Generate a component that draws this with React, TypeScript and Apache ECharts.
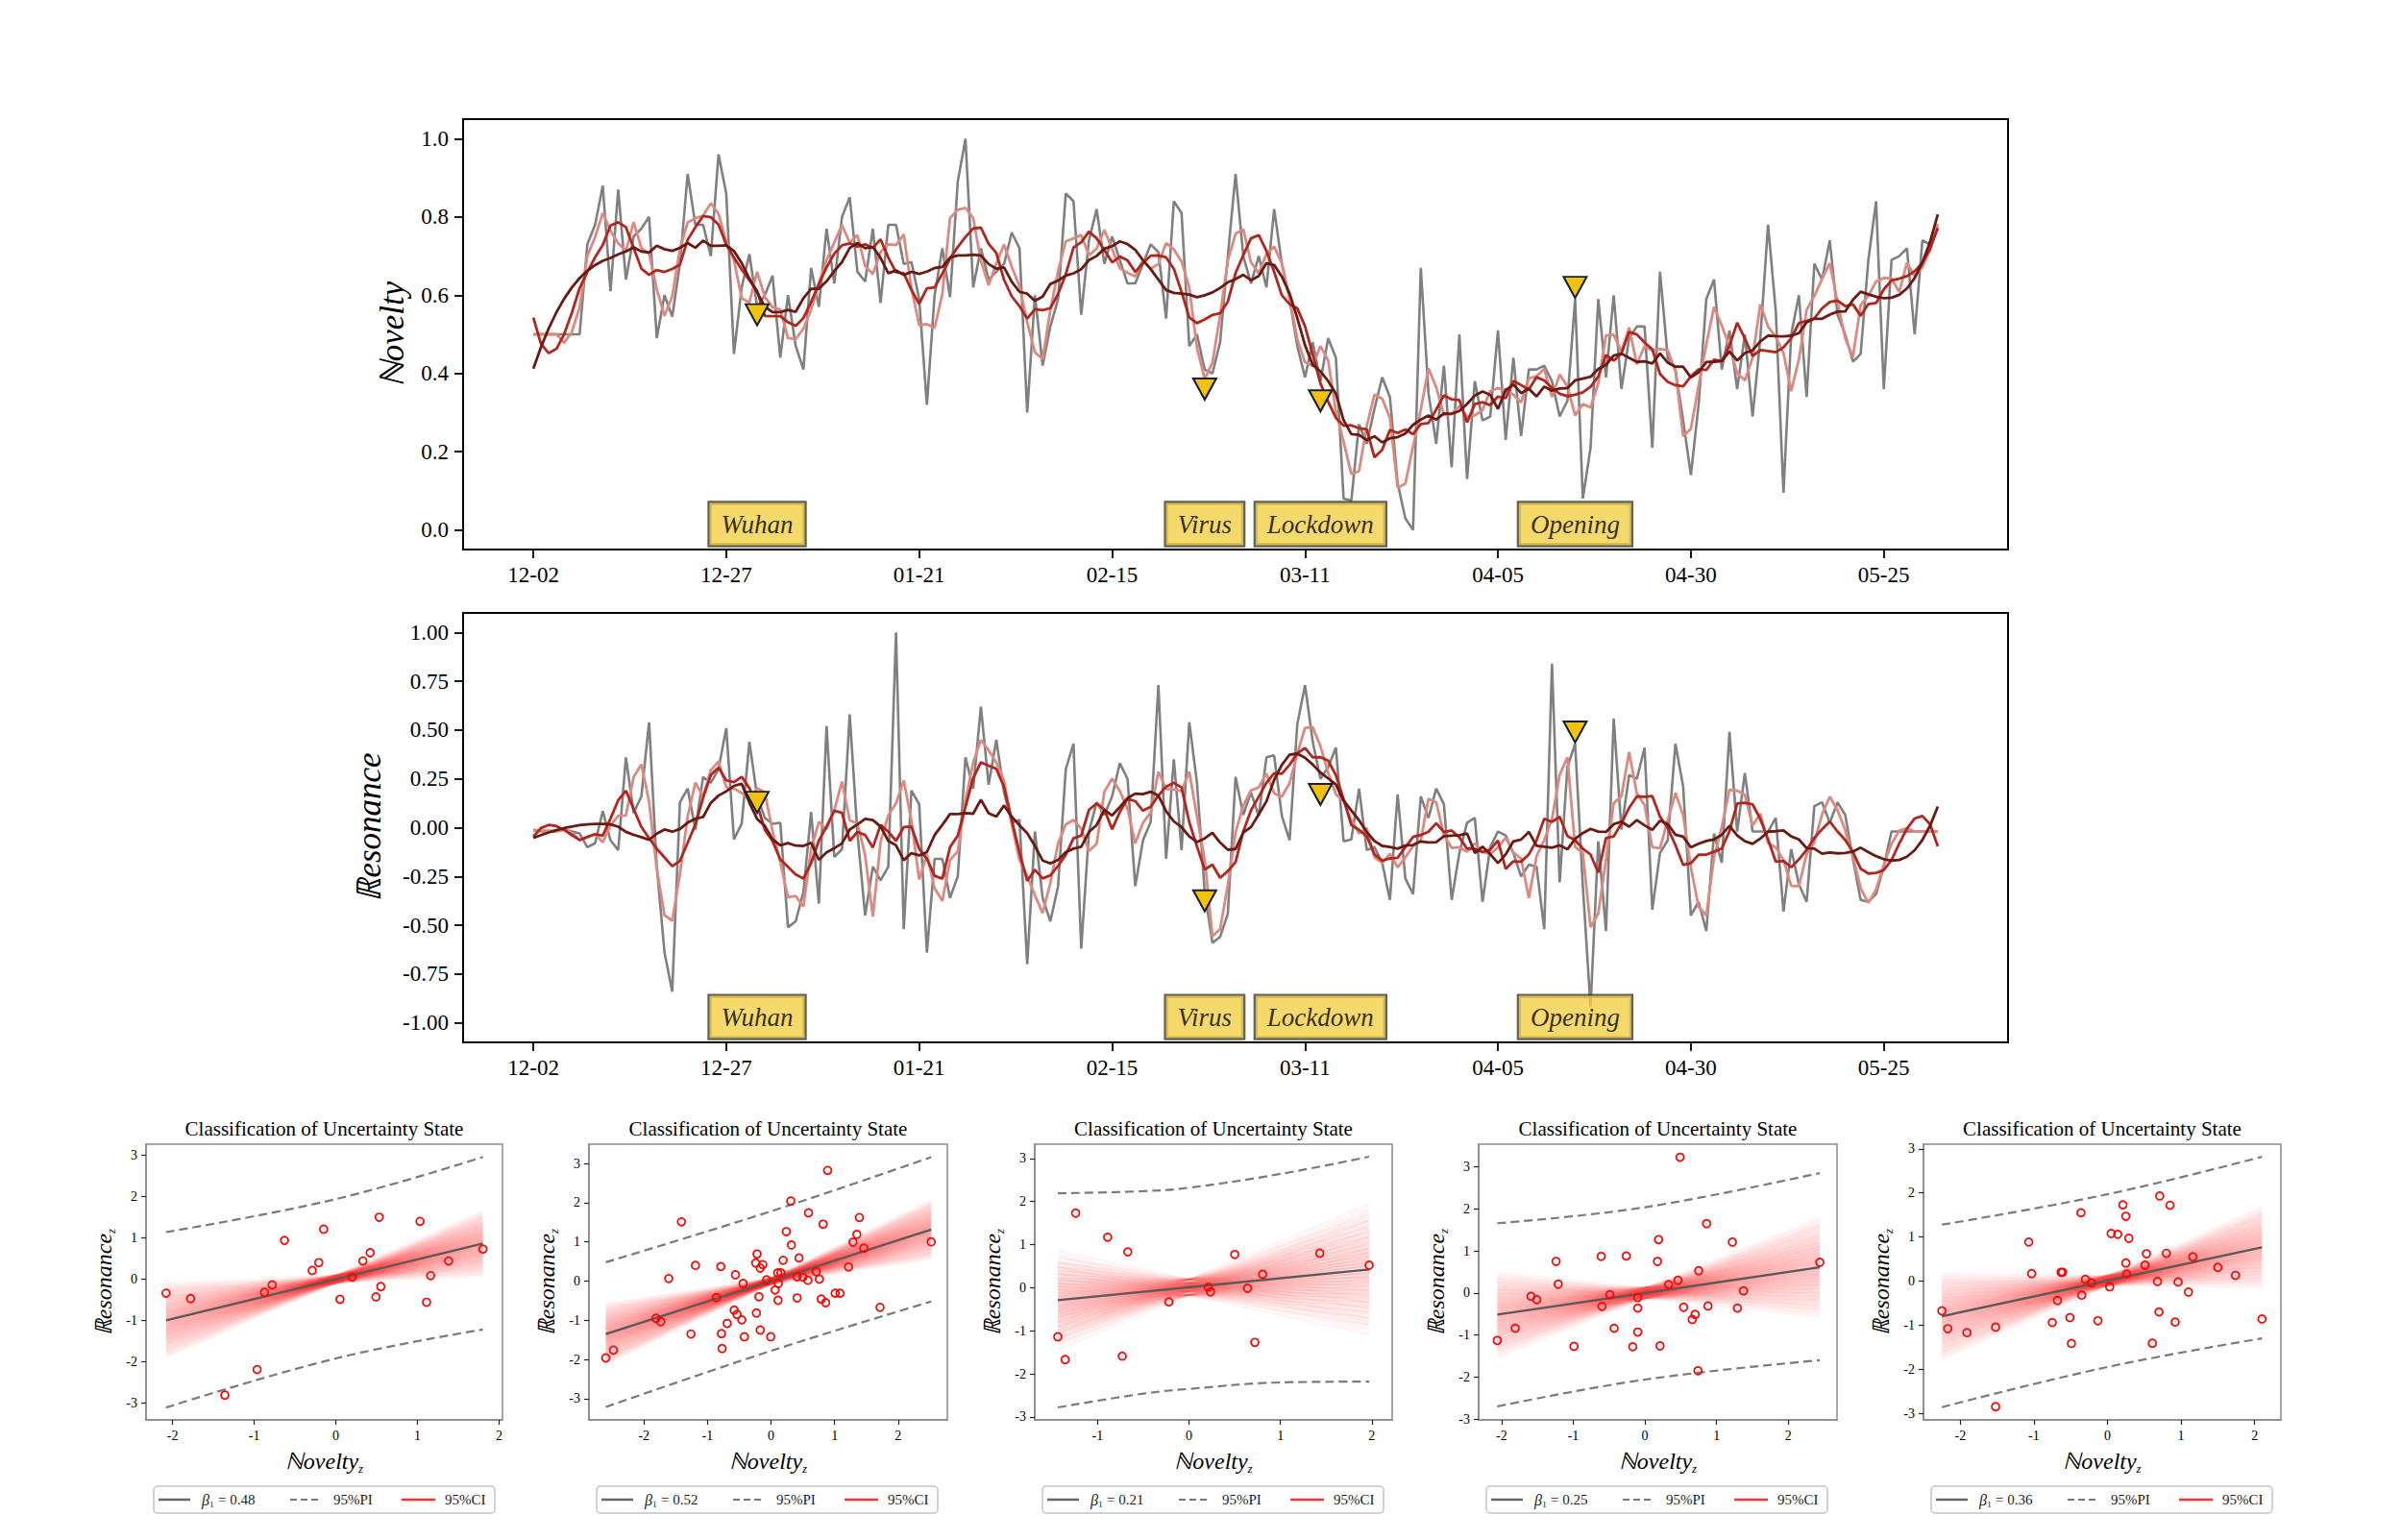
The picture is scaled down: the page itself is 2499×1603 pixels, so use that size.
import React, { useEffect, useRef } from "react";
import * as echarts from "echarts";

// ---------- time-series data (day index 0 = 2019-12-02) ----------
const xTickDays = [0, 25, 50, 75, 100, 125, 150, 175];
const xTickLabels = ["12-02", "12-27", "01-21", "02-15", "03-11", "04-05", "04-30", "05-25"];
const noveltyTicks = [0, 0.2, 0.4, 0.6, 0.8, 1.0];
const resonanceTicks = [-1, -0.75, -0.5, -0.25, 0, 0.25, 0.5, 0.75, 1];

const noveltyRaw = [
  0.5, 0.5, 0.5, 0.5, 0.5, 0.5, 0.5, 0.73, 0.78, 0.88,
  0.61, 0.87, 0.64, 0.75, 0.77, 0.80, 0.49, 0.60, 0.545, 0.68,
  0.91, 0.78, 0.78, 0.70, 0.96, 0.86, 0.45, 0.62, 0.705, 0.57,
  0.60, 0.65, 0.44, 0.60, 0.47, 0.41, 0.67, 0.57, 0.77, 0.63,
  0.80, 0.85, 0.66, 0.635, 0.77, 0.58, 0.78, 0.78, 0.68, 0.685,
  0.59, 0.32, 0.60, 0.72, 0.595, 0.89, 1.0, 0.62, 0.72, 0.64,
  0.66, 0.68, 0.76, 0.72, 0.30, 0.60, 0.42, 0.52, 0.59, 0.86,
  0.84, 0.55, 0.74, 0.82, 0.68, 0.75, 0.69, 0.63, 0.63, 0.68,
  0.73, 0.71, 0.54, 0.84, 0.81, 0.47, 0.50, 0.41, 0.40, 0.48,
  0.70, 0.91, 0.70, 0.63, 0.70, 0.62, 0.82, 0.68, 0.59, 0.47,
  0.39, 0.48, 0.38, 0.49, 0.44, 0.08, 0.075, 0.27, 0.22, 0.31,
  0.39, 0.34, 0.12, 0.03, 0.0, 0.67, 0.35, 0.22, 0.42, 0.16,
  0.50, 0.13, 0.38, 0.28, 0.29, 0.51, 0.23, 0.44, 0.24, 0.41,
  0.41, 0.42, 0.38, 0.29, 0.33, 0.59, 0.08, 0.21, 0.59, 0.39,
  0.60, 0.36, 0.49, 0.52, 0.52, 0.21, 0.66, 0.44, 0.41, 0.28,
  0.14, 0.32, 0.59, 0.64, 0.41, 0.51, 0.36, 0.50, 0.29, 0.49,
  0.78, 0.56, 0.095, 0.50, 0.60, 0.34, 0.68, 0.64, 0.74, 0.55,
  0.50, 0.43, 0.45, 0.69, 0.84, 0.36, 0.69, 0.70, 0.72, 0.50,
  0.74, 0.73, 0.77,
];

const resonanceRaw = [
  -0.01, -0.02, -0.02, -0.02, -0.01, -0.02, -0.03, -0.10, -0.08, 0.085,
  -0.065, -0.115, 0.36, 0.075, 0.16, 0.54, -0.2, -0.64, -0.84, 0.13,
  0.20, -0.01, 0.26, 0.23, 0.30, 0.51, -0.06, 0.02, 0.44, 0.16,
  0.05, 0.02, 0.025, -0.51, -0.48, -0.33, 0.08, -0.39, 0.52, -0.15,
  -0.11, 0.58, -0.03, -0.45, -0.20, -0.27, -0.20, 1.0, -0.52, 0.19,
  0.12, -0.64, -0.16, -0.16, -0.36, -0.25, 0.36, 0.20, 0.62, 0.22,
  0.45, 0.18, 0.025, 0.04, -0.70, -0.02, -0.36, -0.48, -0.30, 0.30,
  0.43, -0.62, -0.02, 0.13, 0.065, 0.16, 0.33, 0.25, -0.30, -0.065,
  0.03, 0.73, -0.16, 0.35, -0.115, 0.54, 0.23, -0.33, -0.59, -0.56,
  -0.44, 0.26, 0.065, 0.18, 0.06, 0.36, 0.37, 0.06, -0.065, 0.53,
  0.73, 0.44, 0.25, 0.31, 0.41, -0.07, -0.06, 0.20, -0.115, -0.10,
  -0.18, -0.37, 0.17, -0.26, -0.34, 0.16, 0.05, 0.20, 0.12, -0.37,
  -0.13, 0.025, 0.05, -0.38, -0.10, -0.02, -0.04, -0.13, -0.25, -0.19,
  -0.20, -0.52, 0.84, -0.28, 0.31, 0.43, -0.30, -0.92, -0.07, -0.53,
  0.56, -0.01, 0.27, 0.25, 0.41, -0.42, -0.13, -0.065, 0.43, 0.21,
  -0.45, -0.38, -0.53, -0.03, -0.18, 0.49, -0.02, 0.28, -0.02, -0.02,
  -0.02, 0.05, -0.43, -0.11, -0.29, -0.38, 0.11, 0.13, 0.025, 0.13,
  0.065, -0.16, -0.37, -0.38, -0.34, -0.20, -0.02, -0.02, -0.02, -0.02,
  -0.02, -0.02, -0.02,
];

// events
const eventNames = ["Wuhan", "Virus", "Lockdown", "Opening"];
const eventDays = [29, 87, 102, 135];
const noveltyMarkers = [0.55, 0.36, 0.33, 0.62];
const resonanceMarkers = [0.13, -0.375, 0.17, 0.49];
const noveltyLabelLevel = 0.015;
const resonanceLabelLevel = -0.97;

// ---------- regression panels ----------
const panel1Novelty = [-2.08, -1.78, -1.36, -0.965, -0.875, -0.78, -0.63, -0.29, -0.21, -0.15, 0.05, 0.20, 0.33, 0.42, 0.49, 0.53, 0.55, 1.03, 1.11, 1.16, 1.38, 1.80];
const panel1Resonance = [-0.34, -0.47, -2.81, -2.19, -0.32, -0.14, 0.94, 0.21, 0.40, 1.21, -0.49, 0.05, 0.44, 0.64, -0.43, 1.50, -0.18, 1.40, -0.56, 0.085, 0.44, 0.73];

const panel2Novelty = [-2.60, -2.48, -1.81, -1.735, -1.61, -1.41, -1.26, -1.19, -0.86, -0.79, -0.78, -0.77, -0.69, -0.58, -0.56, -0.535, -0.46, -0.44, -0.42, -0.24, -0.23, -0.22, -0.19, -0.17, -0.17, -0.13, -0.07, -0.005, 0.065, 0.105, 0.11, 0.115, 0.155, 0.19, 0.24, 0.31, 0.32, 0.41, 0.41, 0.44, 0.50, 0.58, 0.59, 0.71, 0.76, 0.79, 0.82, 0.86, 0.89, 1.01, 1.085, 1.22, 1.29, 1.35, 1.39, 1.46, 1.715, 2.52];
const panel2Resonance = [-1.96, -1.76, -0.95, -1.035, 0.065, 1.51, -1.35, 0.40, -0.42, 0.37, -1.34, -1.72, -1.08, -0.74, 0.16, -0.85, -0.99, -0.06, -1.42, 0.46, -0.815, 0.69, -0.40, 0.33, -1.25, 0.42, 0.03, -1.42, -0.23, 0.21, -0.49, -0.06, 0.21, 0.53, 1.26, 2.04, 0.92, 0.11, -0.43, 0.59, 0.10, 0.02, 1.74, 0.24, 0.05, -0.46, 1.45, -0.55, 2.82, -0.31, -0.31, 0.36, 0.99, 1.19, 1.62, 0.84, -0.67, 1.00];

const panel3Novelty = [-1.435, -1.355, -1.24, -0.89, -0.73, -0.67, -0.22, 0.21, 0.235, 0.50, 0.64, 0.72, 0.805, 1.43, 1.97];
const panel3Resonance = [-1.14, -1.67, 1.73, 1.17, -1.59, 0.83, -0.33, 0.01, -0.10, 0.77, -0.015, -1.27, 0.31, 0.80, 0.52];

const panel4Novelty = [-2.06, -1.81, -1.59, -1.51, -1.24, -1.21, -0.99, -0.61, -0.60, -0.49, -0.43, -0.26, -0.17, -0.10, -0.10, -0.10, 0.175, 0.19, 0.21, 0.33, 0.46, 0.49, 0.54, 0.66, 0.70, 0.75, 0.74, 0.86, 0.88, 1.22, 1.29, 1.375, 2.44];
const panel4Resonance = [-1.13, -0.84, -0.08, -0.16, 0.75, 0.21, -1.27, 0.87, -0.32, -0.04, -0.84, 0.88, -1.28, -0.11, -0.36, -0.93, 0.75, 1.27, -1.26, 0.20, 0.30, 3.23, -0.34, -0.63, -0.51, 0.53, -1.85, 1.65, -0.31, 1.21, -0.36, 0.05, 0.73];

const panel5Novelty = [-2.25, -2.17, -1.91, -1.52, -1.52, -1.07, -1.03, -0.75, -0.68, -0.63, -0.61, -0.51, -0.49, -0.36, -0.35, -0.30, -0.22, -0.13, 0.03, 0.05, 0.14, 0.21, 0.25, 0.25, 0.26, 0.29, 0.51, 0.53, 0.61, 0.68, 0.70, 0.71, 0.80, 0.85, 0.92, 0.96, 1.10, 1.16, 1.50, 1.74, 2.10];
const panel5Resonance = [-0.675, -1.08, -1.17, -1.045, -2.85, 0.885, 0.17, -0.94, -0.44, 0.20, 0.20, -0.83, -1.415, 1.55, -0.32, 0.04, -0.04, -0.90, -0.13, 1.08, 1.06, 1.73, 1.47, 0.41, 0.16, 0.97, 0.36, 0.62, -1.41, -0.01, -0.70, 1.93, 0.63, 1.72, -0.93, -0.02, -0.25, 0.55, 0.31, 0.13, -0.86];

const panelBetas = [0.48, 0.52, 0.21, 0.25, 0.36];
const panelIntercepts = [0, 0, 0.01, 0, 0.01];
const panelLineFrom = [-2.08, -2.6, -1.435, -2.06, -2.25];
const panelLineTo = [1.8, 2.52, 1.97, 2.44, 2.1];
const panelSlopeSd = [0.16, 0.11, 0.28, 0.18, 0.16];
const panelInterceptSd = [0.06, 0.05, 0.12, 0.08, 0.07];

const pi1X = [-2.08, 0, 1.8];
const pi1Upper = [1.14, 1.94, 2.96];
const pi1Lower = [-3.11, -1.92, -1.22];
const pi2X = [-2.6, 0, 2.52];
const pi2Upper = [0.48, 1.78, 3.16];
const pi2Lower = [-3.21, -1.78, -0.52];
const pi3X = [-1.435, -0.5, 0, 1, 1.97];
const pi3Upper = [2.19, 2.24, 2.32, 2.64, 3.04];
const pi3Lower = [-2.78, -2.46, -2.35, -2.2, -2.18];
const pi4X = [-2.06, 0, 2.44];
const pi4Upper = [1.66, 2.04, 2.855];
const pi4Lower = [-2.70, -2.06, -1.60];
const pi5X = [-2.25, 0, 2.1];
const pi5Upper = [1.28, 1.97, 2.82];
const pi5Lower = [-2.86, -1.95, -1.30];

const panelXMin = [-2.325, -2.865, -1.687, -2.32, -2.5];
const panelXMax = [2.04, 2.774, 2.222, 2.68, 2.357];
const panelYMin = [-3.41, -3.54, -3.07, -3.02, -3.15];
const panelYMax = [3.27, 3.49, 3.33, 3.54, 3.106];
const panelXTicks = [[-2, -1, 0, 1, 2], [-2, -1, 0, 1, 2], [-1, 0, 1, 2], [-2, -1, 0, 1, 2], [-2, -1, 0, 1, 2]];
const panelYTicks = [-3, -2, -1, 0, 1, 2, 3];

// posterior-draw quantiles used to draw the 95%CI fan
const fanSlopeQuantiles = [-2.4, -2.0, -1.7, -1.45, -1.23, -1.03, -0.85, -0.68, -0.52, -0.37, -0.22, -0.07, 0.07, 0.22, 0.37, 0.52, 0.68, 0.85, 1.03, 1.23, 1.45, 1.7, 2.0, 2.4];
const fanInterceptQuantiles = [-1.5, -0.8, -0.3, 0.3, 0.8, 1.5];

// ---------- layout ----------
const FONT = "'Liberation Serif', 'Times New Roman', 'DejaVu Serif', serif";
const PANEL_LEFT = [152, 613, 1077, 1539, 2002];
const PANEL_WIDTH = [371, 373, 372, 373, 372];
const PANEL_TOP = 1191;
const PANEL_HEIGHT = 287;

// Savitzky-Golay smoothing (polynomial fit in a moving window, interp at edges)
function savgol(y: number[], w: number, order: number): number[] {
  const n = y.length;
  const h = Math.floor(w / 2);
  const m = order + 1;
  const out: number[] = [];
  for (let i = 0; i < n; i++) {
    const s = Math.min(Math.max(i - h, 0), n - w);
    const A: number[][] = [];
    for (let r = 0; r < m; r++) A.push(new Array(m + 1).fill(0));
    for (let j = s; j < s + w; j++) {
      const x = j - i;
      for (let r = 0; r < m; r++) {
        for (let c = 0; c < m; c++) A[r][c] += Math.pow(x, r + c);
        A[r][m] += Math.pow(x, r) * y[j];
      }
    }
    for (let c = 0; c < m; c++) {
      let p = c;
      for (let r = c + 1; r < m; r++) if (Math.abs(A[r][c]) > Math.abs(A[p][c])) p = r;
      const tmp = A[c]; A[c] = A[p]; A[p] = tmp;
      for (let r = 0; r < m; r++) {
        if (r === c) continue;
        const f = A[r][c] / A[c][c];
        for (let k = c; k <= m; k++) A[r][k] -= f * A[c][k];
      }
    }
    out.push(A[0][m] / A[0][0]);
  }
  return out;
}

const toPts = (arr: number[]) => arr.map((v, i) => [i, v]);

function timeSeries(raw: number[], idx: number, markers: number[], level: number) {
  const base = { type: "line", xAxisIndex: idx, yAxisIndex: idx, symbol: "none", showSymbol: false, silent: true };
  return [
    { ...base, data: toPts(raw), lineStyle: { color: "#808080", width: 2.6 }, z: 2 },
    { ...base, data: toPts(savgol(raw, 7, 2)), lineStyle: { color: "#dc8a80", width: 2.8 }, z: 3 },
    { ...base, data: toPts(savgol(raw, 13, 3)), lineStyle: { color: "#b3261e", width: 2.8 }, z: 4 },
    { ...base, data: toPts(savgol(raw, 21, 3)), lineStyle: { color: "#6a1a12", width: 2.8 }, z: 5 },
    {
      type: "scatter", xAxisIndex: idx, yAxisIndex: idx, silent: true,
      data: eventDays.map((d, i) => [d, markers[i]]),
      symbol: "triangle", symbolRotate: 180, symbolSize: [24, 22],
      itemStyle: { color: "#f4c20d", borderColor: "#17202e", borderWidth: 2, opacity: 1 },
      z: 10,
    },
    {
      type: "scatter", xAxisIndex: idx, yAxisIndex: idx, silent: true,
      data: eventDays.map((d, i) => ({ value: [d, level], name: eventNames[i] })),
      symbol: "circle", symbolSize: 1, itemStyle: { color: "rgba(0,0,0,0)" },
      label: {
        show: true, position: "inside", formatter: "{b}",
        fontFamily: "Liberation Serif", fontStyle: "italic", fontSize: 27, color: "#000",
        backgroundColor: "#f3cf45", borderColor: "#3b3a30", borderWidth: 2.2,
        padding: [9, 12, 7, 12], lineHeight: 28,
      },
      z: 9,
    },
  ];
}

function panelSeries(p: number, xs: number[], ys: number[], piX: number[], piU: number[], piL: number[]) {
  const idx = p + 2;
  const b = panelBetas[p];
  const a = panelIntercepts[p];
  const x0 = panelLineFrom[p];
  const x1 = panelLineTo[p];
  const fan: any[] = [];
  fanSlopeQuantiles.forEach((zs) => {
    fanInterceptQuantiles.forEach((zi) => {
      const bb = b + zs * panelSlopeSd[p];
      const aa = a + zi * panelInterceptSd[p];
      fan.push({ coords: [[x0, aa + bb * x0], [x1, aa + bb * x1]] });
    });
  });
  const base = { xAxisIndex: idx, yAxisIndex: idx, silent: true };
  return [
    { ...base, type: "lines", coordinateSystem: "cartesian2d", data: fan, lineStyle: { color: "#ff1f1f", width: 2.2, opacity: 0.06 }, z: 1 },
    { ...base, type: "line", symbol: "none", data: [[x0, a + b * x0], [x1, a + b * x1]], lineStyle: { color: "#5a5a5a", width: 2.4 }, z: 3 },
    { ...base, type: "line", symbol: "none", smooth: 0.4, data: piX.map((x, i) => [x, piU[i]]), lineStyle: { color: "#7a7a7a", width: 2.2, type: [9, 5] }, z: 3 },
    { ...base, type: "line", symbol: "none", smooth: 0.4, data: piX.map((x, i) => [x, piL[i]]), lineStyle: { color: "#7a7a7a", width: 2.2, type: [9, 5] }, z: 3 },
    {
      ...base, type: "scatter", data: xs.map((x, i) => [x, ys[i]]),
      symbol: "circle", symbolSize: 8,
      itemStyle: { color: "rgba(255,255,255,0)", borderColor: "#ff0000", borderWidth: 1.7, opacity: 1 },
      z: 6,
    },
  ];
}

function App() {
  const ref = useRef<HTMLDivElement>(null);
  useEffect(() => {
    if (!ref.current) return;
    const chart = echarts.init(ref.current, null, { renderer: "svg" });

    const grids: any[] = [
      { left: 482, top: 124, width: 1608, height: 448, show: true, borderColor: "#000", borderWidth: 2, backgroundColor: "transparent" },
      { left: 482, top: 638, width: 1608, height: 447, show: true, borderColor: "#000", borderWidth: 2, backgroundColor: "transparent" },
    ];
    for (let p = 0; p < 5; p++) {
      grids.push({ left: PANEL_LEFT[p], top: PANEL_TOP, width: PANEL_WIDTH[p], height: PANEL_HEIGHT, show: true, borderColor: "#8a8a8a", borderWidth: 1.5, backgroundColor: "transparent" });
    }

    const xFmt = (v: number) => {
      const i = xTickDays.indexOf(Math.round(v));
      return i >= 0 ? xTickLabels[i] : "";
    };
    const mainLabel = { fontFamily: FONT, fontSize: 23, color: "#000", margin: 15 };
    const xAxes: any[] = [0, 1].map((g) => ({
      gridIndex: g, type: "value", min: -9.1, max: 191.1,
      axisLine: { show: true, onZero: false, lineStyle: { color: "#000", width: 2 } },
      axisTick: { show: true, length: 9, lineStyle: { color: "#000", width: 1.8 }, customValues: xTickDays },
      axisLabel: { ...mainLabel, customValues: xTickDays, formatter: xFmt },
      splitLine: { show: false },
    }));
    const yAxes: any[] = [
      {
        gridIndex: 0, type: "value", min: -0.05, max: 1.05,
        axisLine: { show: true, onZero: false, lineStyle: { color: "#000", width: 2 } },
        axisTick: { show: true, length: 9, lineStyle: { color: "#000", width: 1.8 }, customValues: noveltyTicks },
        axisLabel: { ...mainLabel, customValues: noveltyTicks, formatter: (v: number) => v.toFixed(1) },
        splitLine: { show: false },
      },
      {
        gridIndex: 1, type: "value", min: -1.1, max: 1.1,
        axisLine: { show: true, onZero: false, lineStyle: { color: "#000", width: 2 } },
        axisTick: { show: true, length: 9, lineStyle: { color: "#000", width: 1.8 }, customValues: resonanceTicks },
        axisLabel: { ...mainLabel, customValues: resonanceTicks, formatter: (v: number) => v.toFixed(2) },
        splitLine: { show: false },
      },
    ];
    const smallLabel = { fontFamily: FONT, fontSize: 14, color: "#000", margin: 9 };
    for (let p = 0; p < 5; p++) {
      xAxes.push({
        gridIndex: p + 2, type: "value", min: panelXMin[p], max: panelXMax[p],
        axisLine: { show: true, onZero: false, lineStyle: { color: "#8a8a8a", width: 1.5 } },
        axisTick: { show: true, length: 5, lineStyle: { color: "#222", width: 1.2 }, customValues: panelXTicks[p] },
        axisLabel: { ...smallLabel, customValues: panelXTicks[p], formatter: (v: number) => String(v) },
        splitLine: { show: false },
      });
      yAxes.push({
        gridIndex: p + 2, type: "value", min: panelYMin[p], max: panelYMax[p],
        axisLine: { show: true, onZero: false, lineStyle: { color: "#8a8a8a", width: 1.5 } },
        axisTick: { show: true, length: 5, lineStyle: { color: "#222", width: 1.2 }, customValues: panelYTicks },
        axisLabel: { ...smallLabel, customValues: panelYTicks, formatter: (v: number) => String(v) },
        splitLine: { show: false },
      });
    }

    const series: any[] = [
      ...timeSeries(noveltyRaw, 0, noveltyMarkers, noveltyLabelLevel),
      ...timeSeries(resonanceRaw, 1, resonanceMarkers, resonanceLabelLevel),
      ...panelSeries(0, panel1Novelty, panel1Resonance, pi1X, pi1Upper, pi1Lower),
      ...panelSeries(1, panel2Novelty, panel2Resonance, pi2X, pi2Upper, pi2Lower),
      ...panelSeries(2, panel3Novelty, panel3Resonance, pi3X, pi3Upper, pi3Lower),
      ...panelSeries(3, panel4Novelty, panel4Resonance, pi4X, pi4Upper, pi4Lower),
      ...panelSeries(4, panel5Novelty, panel5Resonance, pi5X, pi5Upper, pi5Lower),
    ];

    const graphic: any[] = [
      {
        type: "text", x: 408, y: 348, rotation: Math.PI / 2, silent: true,
        style: { text: "\u2115ovelty", fontFamily: FONT, fontStyle: "italic", fontSize: 35, fill: "#000", align: "center", verticalAlign: "middle", textAlign: "center", textVerticalAlign: "middle" },
      },
      {
        type: "text", x: 384, y: 861, rotation: Math.PI / 2, silent: true,
        style: { text: "\u211Desonance", fontFamily: FONT, fontStyle: "italic", fontSize: 35, fill: "#000", align: "center", verticalAlign: "middle", textAlign: "center", textVerticalAlign: "middle" },
      },
    ];
    const subRich = (main: number) => ({
      m: { fontFamily: FONT, fontStyle: "italic", fontSize: main, lineHeight: 28, fill: "#000", color: "#000" },
      s: { fontFamily: FONT, fontStyle: "italic", fontSize: 13, lineHeight: 28, verticalAlign: "bottom", fill: "#000", color: "#000" },
    });
    for (let p = 0; p < 5; p++) {
      const L = PANEL_LEFT[p];
      const W = PANEL_WIDTH[p];
      const cx = L + W / 2;
      graphic.push({
        type: "text", x: cx, y: 1175, silent: true,
        style: { text: "Classification of Uncertainty State", fontFamily: FONT, fontSize: 21, fill: "#000", align: "center", verticalAlign: "middle", textAlign: "center", textVerticalAlign: "middle" },
      });
      graphic.push({
        type: "text", x: cx, y: 1521, silent: true,
        style: { text: "{m|\u2115ovelty}{s|z}", rich: subRich(24), align: "center", verticalAlign: "middle", textAlign: "center", textVerticalAlign: "middle" },
      });
      graphic.push({
        type: "text", x: L - 44, y: PANEL_TOP + PANEL_HEIGHT / 2, rotation: Math.PI / 2, silent: true,
        style: { text: "{m|\u211Desonance}{s|z}", rich: subRich(24), align: "center", verticalAlign: "middle", textAlign: "center", textVerticalAlign: "middle" },
      });
      const txt = (x: number, text: string, rich?: any) => ({
        type: "text", x, y: 14, silent: true,
        style: { text, rich, fontFamily: FONT, fontSize: 15, fill: "#222", align: "left", verticalAlign: "middle", textAlign: "left", textVerticalAlign: "middle" },
      });
      graphic.push({
        type: "group", x: L + 8, y: 1547, silent: true,
        children: [
          { type: "rect", shape: { x: 0, y: 0, width: 355, height: 28, r: 4 }, style: { fill: "#fff", stroke: "#c4c4c4", lineWidth: 1.5 } },
          { type: "line", shape: { x1: 5, y1: 14, x2: 38, y2: 14 }, style: { stroke: "#666", lineWidth: 2.4 } },
          txt(50, "{i|\u03B2}{n|\u2081 = " + panelBetas[p].toFixed(2) + "}", {
            i: { fontFamily: FONT, fontStyle: "italic", fontSize: 16, fill: "#222", color: "#222" },
            n: { fontFamily: FONT, fontSize: 15, fill: "#222", color: "#222" },
          }),
          { type: "line", shape: { x1: 142, y1: 14, x2: 175, y2: 14 }, style: { stroke: "#777", lineWidth: 2.2, lineDash: [7, 4] } },
          txt(187, "95%PI"),
          { type: "line", shape: { x1: 258, y1: 14, x2: 293, y2: 14 }, style: { stroke: "#ff3030", lineWidth: 2.4 } },
          txt(303, "95%CI"),
        ],
      });
    }

    chart.setOption({
      animation: false,
      backgroundColor: "#ffffff",
      textStyle: { fontFamily: FONT },
      grid: grids,
      xAxis: xAxes,
      yAxis: yAxes,
      series,
      graphic,
    });
    return () => chart.dispose();
  }, []);
  return <div ref={ref} style={{ position: "fixed", left: 0, top: 0, width: 2499, height: 1603, background: "#fff" }} />;
}

export default App;
